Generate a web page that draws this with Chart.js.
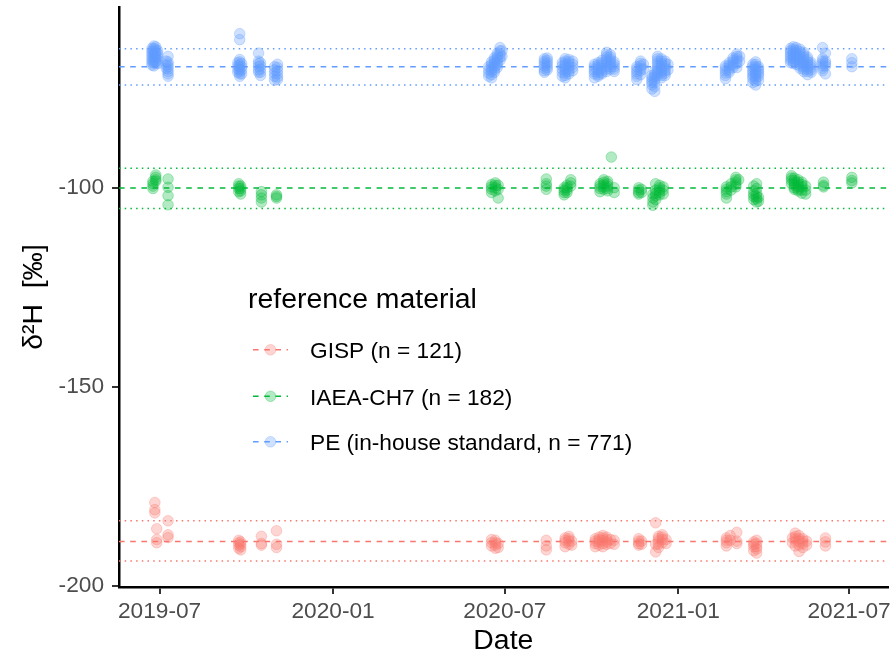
<!DOCTYPE html>
<html>
<head>
<meta charset="utf-8">
<script src="https://cdn.jsdelivr.net/npm/chart.js@4.4.0/dist/chart.umd.min.js"></script>
<style>
  html, body { margin: 0; padding: 0; background: #ffffff; }
  #wrap { width: 894px; height: 658px; position: relative; }
</style>
</head>
<body>
<div id="wrap"><canvas id="c" width="894" height="658"></canvas></div>
<script>
// ---------------- DATA ----------------
const seriesNames = ['GISP (n = 121)', 'IAEA-CH7 (n = 182)', 'PE (in-house standard, n = 771)'];
const legendTitle = 'reference material';
const xAxisTitle = 'Date';
const yAxisTitle = 'δ²H  [‰]';

const xTickDates  = ['2019-07-01', '2020-01-01', '2020-07-01', '2021-01-01', '2021-07-01'];
const xTickLabels = ['2019-07', '2020-01', '2020-07', '2021-01', '2021-07'];
const yTickValues = [-200, -150, -100];

// measurement sessions (date) and the δ2H values measured in each session
const gispDates = ['2019-06-26','2019-06-28','2019-07-10','2019-09-23','2019-09-25','2019-10-17','2019-11-02',
  '2020-06-17','2020-06-21','2020-06-24','2020-08-14','2020-09-03','2020-09-07','2020-09-10',
  '2020-10-05','2020-10-09','2020-10-13','2020-10-17','2020-10-21','2020-10-25','2020-11-20','2020-11-23',
  '2020-12-08','2020-12-11','2020-12-15','2020-12-19','2021-02-21','2021-02-25','2021-03-04',
  '2021-03-22','2021-03-25','2021-05-02','2021-05-05','2021-05-09','2021-05-13','2021-05-17','2021-06-06'];
const gispValues = [[-179.1,-180.9,-181.7],[-185.7,-188.4,-189.2],[-183.7,-187.2,-187.9],
  [-188.6,-189.2,-189.8,-190.6],[-189.0,-189.6,-190.2,-191.0],[-187.6,-189.4,-189.8],[-186.2,-189.6,-190.4],
  [-188.4,-189.2,-190.0],[-188.6,-189.2,-189.8,-190.6],[-189.4,-190.4],[-188.6,-190.0,-191.0],
  [-188.0,-188.6,-189.2,-190.2],[-187.6,-188.2,-188.8,-189.6],[-188.8,-189.8],
  [-188.2,-188.8,-189.4,-190.2],[-187.8,-188.4,-189.0,-189.8],[-187.4,-188.0,-188.6,-189.4,-190.2],[-187.8,-188.4,-189.0,-189.6],
  [-188.4,-189.4],[-188.6,-189.6],[-188.2,-188.8,-189.4,-189.8],[-188.8,-189.6],
  [-184.2,-189.6,-191.5],[-187.6,-188.2,-188.8,-189.6,-190.4],[-187.2,-187.8,-188.4,-189.2],[-188.4,-189.4],
  [-188.0,-188.6,-189.2,-190.0],[-187.4,-188.6],[-186.6,-188.8,-189.4],
  [-189.0,-189.6,-190.2,-191.2],[-188.6,-189.4,-190.2,-190.8,-191.8],[-188.0,-189.2],[-186.8,-187.6,-188.2,-188.8,-190.0],
  [-187.4,-188.2,-188.8,-189.8,-191.4],[-188.2,-188.8,-189.4,-190.4],[-188.8,-189.8],[-188.0,-189.0,-190.0]];

const ch7Dates = ['2019-06-24','2019-06-27','2019-07-10','2019-09-23','2019-09-25','2019-10-17','2019-11-02',
  '2020-06-17','2020-06-21','2020-06-24','2020-08-14','2020-09-02','2020-09-05','2020-09-09',
  '2020-10-10','2020-10-14','2020-10-18','2020-10-22','2020-10-25','2020-11-20','2020-11-23',
  '2020-12-05','2020-12-08','2020-12-12','2020-12-16','2021-02-21','2021-02-26','2021-03-03','2021-03-06',
  '2021-03-22','2021-03-25','2021-03-27','2021-05-01','2021-05-04','2021-05-08','2021-05-12','2021-05-16',
  '2021-06-04','2021-07-04'];
const ch7Values = [[-98.4,-99.0,-99.6,-100.2],[-96.8,-97.4,-98.0,-98.4],[-97.8,-99.9,-102.0,-104.3],
  [-99.0,-99.6,-100.2,-101.0],[-99.6,-100.2,-100.8,-101.6],[-101.0,-101.8,-102.6,-103.6],[-101.8,-102.2,-102.6],
  [-99.2,-99.8,-100.4,-101.2],[-98.8,-99.4,-100.0,-100.8],[-99.4,-100.4,-102.6],[-97.8,-99.0,-99.6,-100.4],
  [-100.0,-100.6,-101.2,-101.8],[-99.4,-100.0,-100.6,-101.2],[-98.0,-98.8,-99.6],
  [-99.0,-99.6,-100.2,-101.0],[-98.0,-98.6,-99.2,-99.8,-100.4],[-98.4,-99.0,-99.6,-100.2,-100.8],[-92.3],[-100.0,-101.2],
  [-100.0,-100.6,-101.2,-101.6],[-100.4,-101.2],
  [-101.6,-102.6,-103.6,-104.4],[-99.0,-100.6,-101.4,-102.0,-103.0],[-99.4,-100.0,-100.6,-101.2,-101.8],[-99.8,-100.6,-101.6],
  [-99.8,-100.4,-101.0,-101.6,-102.6],[-99.0,-99.8,-100.6],[-97.4,-98.0,-98.6,-99.2,-99.8],[-98.0],
  [-99.6,-100.8,-101.6,-102.2,-103.0],[-99.0,-100.2,-101.4,-102.2,-102.8,-103.6],[-102.4,-103.4],
  [-97.0,-97.6,-98.2,-99.0],[-97.6,-98.2,-98.8,-99.4,-100.0,-100.4],[-98.0,-98.6,-99.2,-99.8,-100.4,-100.8],
  [-98.6,-99.2,-99.8,-100.6,-101.4],[-99.6,-100.6,-101.6],[-98.6,-99.4,-99.8],[-97.4,-98.2,-98.8]];

const peDates = ['2019-06-23','2019-06-25','2019-06-27','2019-06-29','2019-07-08','2019-07-10',
  '2019-09-22','2019-09-24','2019-09-26','2019-10-14','2019-10-16','2019-10-31','2019-11-03',
  '2020-06-14','2020-06-17','2020-06-20','2020-06-23','2020-06-26','2020-06-28',
  '2020-08-12','2020-08-15','2020-08-31','2020-09-03','2020-09-07','2020-09-11',
  '2020-10-04','2020-10-08','2020-10-12','2020-10-17','2020-10-21','2020-10-25',
  '2020-11-18','2020-11-22','2020-11-25',
  '2020-12-04','2020-12-07','2020-12-10','2020-12-14','2020-12-18','2020-12-21',
  '2021-02-20','2021-02-24','2021-02-28','2021-03-04','2021-03-07',
  '2021-03-21','2021-03-24','2021-03-27',
  '2021-04-30','2021-05-03','2021-05-06','2021-05-10','2021-05-14','2021-05-18','2021-05-22',
  '2021-06-03','2021-06-06','2021-07-04'];
const peValues = [
  [-65.0,-65.6,-66.2,-66.8,-67.4,-68.0,-68.6,-69.2],
  [-64.4,-65.0,-65.6,-66.2,-66.8,-67.4,-68.0,-68.6,-69.4],
  [-64.6,-65.2,-65.8,-66.4,-67.0,-67.6,-68.2,-68.8],
  [-65.6,-66.4,-67.2,-68.0,-68.8],
  [-68.2,-69.2,-70.0],
  [-67.0,-68.4,-69.0,-69.6,-70.2,-70.8,-71.4,-72.0],
  [-68.6,-69.4,-70.2,-71.0],
  [-61.3,-62.8,-67.8,-68.4,-69.0,-69.6,-70.2,-70.8,-71.4,-72.0],
  [-68.8,-69.6,-70.4,-71.4],
  [-66.2,-68.2,-68.8,-69.6,-70.4,-71.0],
  [-68.6,-69.4,-70.2,-71.0,-71.8],
  [-69.6,-70.4,-71.2,-72.0,-73.0],
  [-69.0,-69.8,-70.6,-71.4,-72.2,-72.8],
  [-69.6,-70.4,-71.2,-72.0],
  [-68.4,-69.0,-69.6,-70.2,-70.8,-71.6,-72.4],
  [-67.4,-68.0,-68.6,-69.2,-69.8,-70.4,-71.0],
  [-66.2,-66.8,-67.4,-68.0,-68.6,-69.2,-69.8],
  [-64.8,-65.6,-66.4,-67.2,-68.0],
  [-65.6,-67.0],
  [-67.6,-68.2,-68.8,-69.4,-70.0,-70.6,-71.0],
  [-67.4,-68.0,-68.6,-69.2,-69.8,-70.4],
  [-68.6,-69.4,-70.2,-71.0,-72.0],
  [-67.6,-68.2,-68.8,-69.4,-70.0,-70.6,-71.2,-71.8,-72.4],
  [-67.8,-68.4,-69.0,-69.6,-70.2,-70.8,-71.4],
  [-68.2,-69.0,-69.8,-70.6],
  [-69.0,-69.6,-70.2,-70.8,-71.4,-72.4],
  [-68.6,-69.2,-69.8,-70.4,-71.0,-71.6,-72.0],
  [-68.0,-68.6,-69.2,-69.8,-70.4,-71.0,-71.4],
  [-66.0,-66.6,-67.2,-67.8,-68.4,-69.0,-69.6,-70.2,-70.8],
  [-66.6,-67.2,-67.8,-68.4,-69.0,-69.6,-70.2],
  [-68.4,-69.0,-69.6,-70.2,-70.8],
  [-69.6,-70.2,-70.8,-71.4,-72.0,-72.8],
  [-68.2,-68.8,-69.4,-70.0,-70.6,-71.6],
  [-69.0,-70.2],
  [-71.8,-72.4,-73.0,-73.6,-74.2,-75.2],
  [-70.8,-71.6,-72.2,-72.9,-73.6,-74.6,-75.8],
  [-67.0,-67.6,-68.2,-68.8,-69.4,-70.0,-70.6,-71.2,-71.8],
  [-67.6,-68.2,-68.8,-69.4,-70.0,-70.6,-71.2,-71.8,-72.4],
  [-68.2,-68.8,-69.4,-70.0,-70.6,-71.2,-71.8],
  [-69.0,-70.4],
  [-69.4,-70.0,-70.6,-71.2,-71.8,-72.6],
  [-68.6,-69.2,-69.8,-70.4,-71.0],
  [-67.4,-68.0,-68.6,-69.2,-69.8],
  [-66.4,-67.0,-67.6,-68.2,-68.8,-69.8],
  [-67.0,-68.2],
  [-69.0,-69.6,-70.2,-70.8,-71.4,-72.0,-72.6,-73.6],
  [-68.4,-69.0,-69.6,-70.2,-70.8,-71.4,-72.0,-72.6,-73.2,-74.2],
  [-69.6,-70.2,-70.8,-71.4,-72.0,-73.0],
  [-65.0,-65.6,-66.2,-66.8,-67.4,-68.0,-68.6],
  [-64.6,-65.2,-65.8,-66.4,-67.0,-67.6,-68.2,-68.8],
  [-64.8,-65.4,-66.0,-66.6,-67.2,-67.8,-68.4,-69.0],
  [-65.2,-65.8,-66.4,-67.0,-67.6,-68.2,-68.8,-69.4,-70.0],
  [-66.0,-66.6,-67.2,-67.8,-68.4,-69.0,-69.6,-70.2,-70.8],
  [-67.2,-67.8,-68.4,-69.0,-69.6,-70.2,-70.8,-71.6],
  [-68.6,-69.2,-69.8,-70.4,-71.0],
  [-64.8,-67.6,-68.2,-68.8,-69.4,-70.0,-70.6],
  [-66.2,-68.2,-68.8,-69.4,-71.4],
  [-67.6,-68.6,-69.6]];

// reference lines: [mean + sd, mean, mean - sd]
const gispLines = [-183.7, -188.9, -193.8];
const ch7Lines  = [-95.1, -100.1, -105.2];
const peLines   = [-65.1, -69.6, -74.2];

// axis ranges
const xMinDate = '2019-05-19';
const xMaxDate = '2021-08-11';
const yMin = -200.33;
const yMax = -54.6;

// ---------------- STYLE ----------------
const FONT = '"Liberation Sans", Arial, Helvetica, sans-serif';
const colors = ['248,118,109', '0,186,56', '97,156,255'];
const POINT_ALPHA = 0.3;

function toPoints(dates, values) {
  const pts = [];
  dates.forEach((d, i) => values[i].forEach(v => pts.push({ x: Date.parse(d), y: v })));
  return pts;
}
function hline(v) {
  return [{ x: Date.parse(xMinDate), y: v }, { x: Date.parse(xMaxDate), y: v }];
}

const pointSets = [toPoints(gispDates, gispValues), toPoints(ch7Dates, ch7Values), toPoints(peDates, peValues)];
const lineSets = [gispLines, ch7Lines, peLines];

const datasets = [];
pointSets.forEach((pts, i) => {
  datasets.push({
    label: seriesNames[i],
    data: pts,
    showLine: false,
    pointRadius: 5.3,
    pointBorderWidth: 1,
    pointBackgroundColor: 'rgba(' + colors[i] + ',' + POINT_ALPHA + ')',
    pointBorderColor: 'rgba(' + colors[i] + ',' + POINT_ALPHA + ')',
  });
});
lineSets.forEach((vals, i) => {
  vals.forEach((v, j) => {
    datasets.push({
      label: seriesNames[i] + (j === 1 ? ' mean' : ' sd'),
      data: hline(v),
      showLine: true,
      pointRadius: 0,
      borderWidth: 1.5,
      borderColor: 'rgb(' + colors[i] + ')',
      borderDash: j === 1 ? [5.6, 5.6] : [1.5, 4.2],
      fill: false,
    });
  });
});

const legendPlugin = {
  id: 'refLegend',
  afterDatasetsDraw(chart) {
    const ctx = chart.ctx;
    ctx.save();
    ctx.textAlign = 'left';
    ctx.textBaseline = 'alphabetic';
    ctx.fillStyle = '#000000';
    ctx.font = '28.4px ' + FONT;
    ctx.fillText(legendTitle, 248, 308);
    ctx.font = '22.7px ' + FONT;
    const baselines = [358, 404.5, 450];
    seriesNames.forEach((name, i) => {
      const yb = baselines[i];
      const yc = yb - 8.2;
      ctx.strokeStyle = 'rgb(' + colors[i] + ')';
      ctx.lineWidth = 1.4;
      ctx.setLineDash([5.6, 5.6]);
      ctx.beginPath(); ctx.moveTo(253, yc); ctx.lineTo(288, yc); ctx.stroke();
      ctx.setLineDash([]);
      ctx.fillStyle = 'rgba(' + colors[i] + ',' + POINT_ALPHA + ')';
      ctx.strokeStyle = 'rgba(' + colors[i] + ',' + POINT_ALPHA + ')';
      ctx.lineWidth = 1;
      ctx.beginPath(); ctx.arc(270.5, yc, 5.3, 0, Math.PI * 2); ctx.fill(); ctx.stroke();
      ctx.fillStyle = '#000000';
      ctx.fillText(name, 310, yb);
    });
    ctx.restore();
  }
};

new Chart(document.getElementById('c'), {
  type: 'scatter',
  data: { datasets },
  plugins: [legendPlugin],
  options: {
    responsive: false,
    animation: false,
    devicePixelRatio: 1,
    events: [],
    layout: { padding: { top: 7, right: 5, left: 0, bottom: 0 } },
    plugins: { legend: { display: false }, tooltip: { enabled: false }, title: { display: false } },
    scales: {
      x: {
        type: 'linear',
        min: Date.parse(xMinDate),
        max: Date.parse(xMaxDate),
        afterBuildTicks: (s) => { s.ticks = xTickDates.map(d => ({ value: Date.parse(d) })); },
        afterFit: (s) => { s.height = 71; s.paddingLeft = 0; s.paddingRight = 0; },
        ticks: {
          autoSkip: false, maxRotation: 0, minRotation: 0, padding: 4,
          color: '#4D4D4D', font: { family: FONT, size: 22.7 },
          callback: (v, i) => xTickLabels[i]
        },
        grid: { drawOnChartArea: false, drawTicks: true, tickLength: 7, color: '#333333', lineWidth: 2 },
        border: { display: true, color: '#000000', width: 2.5 },
        title: { display: true, text: xAxisTitle, color: '#000000', font: { family: FONT, size: 28.4 }, padding: { top: 0, bottom: 0 } }
      },
      y: {
        type: 'linear',
        min: yMin,
        max: yMax,
        afterBuildTicks: (s) => { s.ticks = yTickValues.map(v => ({ value: v })); },
        afterFit: (s) => { s.width = 119; s.paddingTop = 0; s.paddingBottom = 0; },
        ticks: {
          padding: 8, color: '#4D4D4D', font: { family: FONT, size: 22.7 },
          callback: (v) => String(v)
        },
        grid: { drawOnChartArea: false, drawTicks: true, tickLength: 7, color: '#333333', lineWidth: 2 },
        border: { display: true, color: '#000000', width: 2.5 },
        title: { display: true, text: yAxisTitle, color: '#000000', font: { family: FONT, size: 28.4 }, padding: { top: 17, bottom: 0 } }
      }
    }
  }
});
</script>
</body>
</html>
